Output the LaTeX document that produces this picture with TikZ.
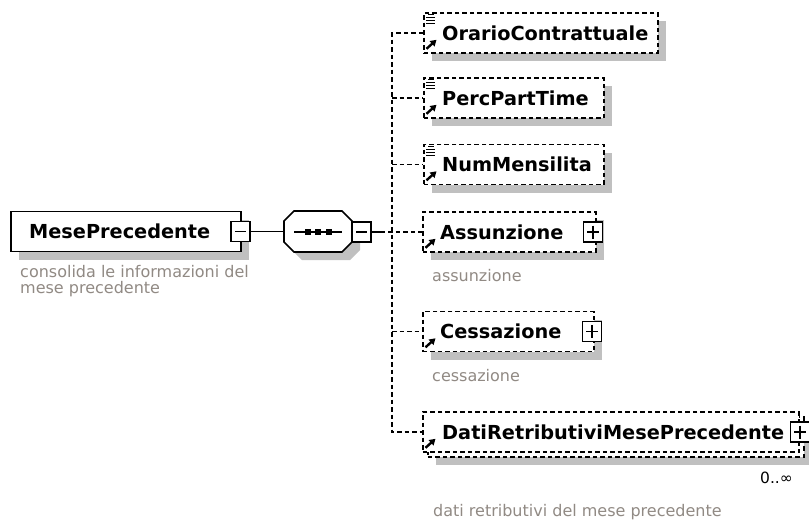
\documentclass[tikz,border=0pt]{standalone}
\usepackage{fontspec}
\setmainfont{DejaVu Sans}
\usetikzlibrary{shadows,arrows.meta}
\definecolor{shadowgray}{RGB}{192,192,192}
\definecolor{descgray}{RGB}{145,138,132}
\tikzset{
  shd/.style={general shadow={fill=shadowgray, shadow xshift=8pt, shadow yshift=-8pt}},
  elem/.style={draw, line width=1.6pt, fill=white, rectangle, minimum height=40pt, inner sep=0pt, anchor=west},
  optdash/.style={dash pattern=on 4.5pt off 3pt},
  lbl/.style={anchor=west, font=\fontsize{19.3}{22}\selectfont\bfseries, inner sep=0pt},
  desc/.style={anchor=base west, font=\fontsize{16}{16}\selectfont, text=descgray, align=left, inner sep=0pt},
  pmbox/.style={draw, line width=1.5pt, fill=white, minimum width=19pt, minimum height=20pt, inner sep=0pt},
  minusbox/.style={pmbox, path picture={\draw[line width=1.5pt] ([xshift=4pt]path picture bounding box.west) -- ([xshift=-4pt]path picture bounding box.east);}},
  plusbox/.style={pmbox, path picture={\draw[line width=1.5pt] ([xshift=3.5pt]path picture bounding box.west) -- ([xshift=-3.5pt]path picture bounding box.east); \draw[line width=1.5pt] ([yshift=-3.5pt]path picture bounding box.north) -- ([yshift=3.5pt]path picture bounding box.south);}},
  conn/.style={line width=1.6pt, optdash},
  solidconn/.style={line width=1.6pt},
}
\newcommand\simpleicon[1]{%
  \draw[line width=1.3pt] ([shift={(5,2.5)}]#1.north west) -- ++(6,0);
  \draw[line width=1.3pt] ([shift={(3,5.5)}]#1.north west) -- ++(9,0);
  \draw[line width=1.3pt] ([shift={(3,8.5)}]#1.north west) -- ++(9,0);
  \draw[line width=1.3pt] ([shift={(3,11.5)}]#1.north west) -- ++(9,0);}
\newcommand\refarrow[1]{%
  \draw[line width=2.4pt, -{Triangle[length=6pt,width=7pt]}] ([shift={(3.5,-5)}]#1.south west) -- ++(10,-9);}
\begin{document}
\begin{tikzpicture}[x=1pt,y=-1pt]
\useasboundingbox[fill=white] (0,0) rectangle (809,520);

% main element
\node[elem, shd, minimum width=230pt] (mese) at (10,231.5) {};
\node[lbl] (meseT) at (29,231.5) {MesePrecedente};
\node[minusbox] (meseM) at (240.5,231.5) {};
\node[desc] (meseD) at (20,293) {consolida le informazioni del\\mese precedente};

% sequence compositor
\node[minimum width=68pt, minimum height=41pt, inner sep=0pt] (seq) at (318,231.5) {};
\fill[shadowgray, shift={(8,8)}] (294,211) -- (342,211) -- (352,221) -- (352,242) -- (342,252) -- (294,252) -- (284,242) -- (284,221) -- cycle;
\filldraw[fill=white, line width=1.6pt] (294,211) -- (342,211) -- (352,221) -- (352,242) -- (342,252) -- (294,252) -- (284,242) -- (284,221) -- cycle;
\draw[line width=1.5pt] (294,232) -- (342,232);
\foreach \sx in {307.5,318,328.5} \fill (\sx-3,229) rectangle (\sx+3,235);
\node[minusbox] (seqM) at (361.5,232) {};
\draw[solidconn] (meseM.east) -- (seq.west);

% children
\node[elem, optdash, shd, minimum width=234pt] (orario) at (423,33) {};
\node[lbl] (orarioT) at (442,33) {OrarioContrattuale};
\node[elem, optdash, shd, minimum width=180pt] (perc) at (423,98) {};
\node[lbl] (percT) at (442,98) {PercPartTime};
\node[elem, optdash, shd, minimum width=180pt] (num) at (423,164.5) {};
\node[lbl] (numT) at (442,164.5) {NumMensilita};
\node[elem, optdash, shd, minimum width=173pt] (assun) at (422,232) {};
\node[lbl] (assunT) at (440,232) {Assunzione};
\node[plusbox] (assunP) at (593,232) {};
\node[desc] (assunD) at (432,281) {assunzione};
\node[elem, optdash, shd, minimum width=171pt] (cess) at (422,331.5) {};
\node[lbl] (cessT) at (440,331.5) {Cessazione};
\node[plusbox] (cessP) at (592,331.5) {};
\node[desc] (cessD) at (432,381) {cessazione};
\node[elem, optdash, shd, minimum width=376pt] (datiB) at (427,437) {};
\node[elem, optdash, minimum width=376pt] (dati) at (422,432) {};
\node[lbl] (datiT) at (442,432) {DatiRetributiviMesePrecedente};
\node[plusbox] (datiP) at (800,432) {};
\node[anchor=base east, inner sep=0pt, font=\fontsize{15.5}{16}\selectfont] (datiM) at (793,483) {0..∞};
\node[desc] (datiD) at (433,516) {dati retributivi del mese precedente};

\simpleicon{orario}\simpleicon{perc}\simpleicon{num}
\refarrow{orario}\refarrow{perc}\refarrow{num}\refarrow{assun}\refarrow{cess}\refarrow{dati}

% connectors
\coordinate (bus) at (392,232);
\draw[solidconn] (seqM.east) -- ++(9,0) coordinate (seqJ);
\draw[conn] (seqJ) -- (assun.west);
\draw[conn] (orario.west) -- (orario.west -| bus) -- (dati.west -| bus) -- (dati.west);
\draw[conn] (perc.west -| bus) -- (perc.west);
\draw[conn] (num.west -| bus) -- (num.west);
\draw[conn] (cess.west -| bus) -- (cess.west);
\end{tikzpicture}
\end{document}
